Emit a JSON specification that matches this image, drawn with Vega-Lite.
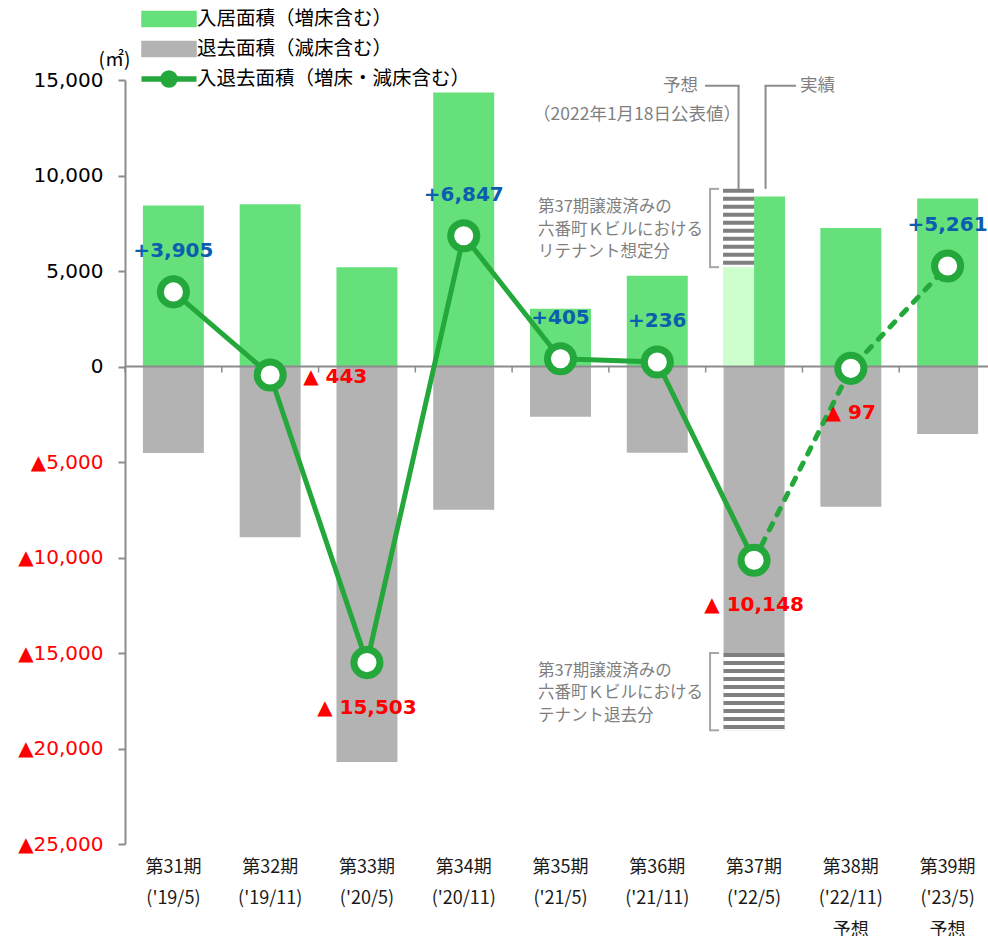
{
  "$schema": "https://vega.github.io/schema/vega-lite/v6.json",
  "width": 863,
  "height": 764,
  "autosize": {"type": "none"},
  "padding": {"left": 125, "top": 80, "right": 0, "bottom": 92},
  "background": "white",
  "config": {"view": {"stroke": null}, "font": "Noto Sans CJK JP"},
  "datasets": {
    "main": [
      {"period": "第31期 ('19/5)", "n": 31, "in": 8430, "out": -4525, "net": 3905},
      {"period": "第32期 ('19/11)", "n": 32, "in": 8500, "out": -8943, "net": -443},
      {"period": "第33期 ('20/5)", "n": 33, "in": 5200, "out": -20703, "net": -15503},
      {"period": "第34期 ('20/11)", "n": 34, "in": 14350, "out": -7503, "net": 6847},
      {"period": "第35期 ('21/5)", "n": 35, "in": 3030, "out": -2625, "net": 405},
      {"period": "第36期 ('21/11)", "n": 36, "in": 4750, "out": -4514, "net": 236},
      {"period": "第37期 ('22/5)", "n": 37, "in": 8900, "out": -19048, "net": -10148},
      {"period": "第38期 ('22/11) 予想", "n": 38, "in": 7250, "out": -7347, "net": -97},
      {"period": "第39期 ('23/5) 予想", "n": 39, "in": 8800, "out": -3539, "net": 5261}
    ],
    "hatch": [
      {"period": "第37期 ('22/5)", "part": "in", "hi": 9300, "lo": 5200, "top": 14700, "note": "第37期譲渡済みの\n六番町Ｋビルにおける\nリテナント想定分"},
      {"period": "第37期 ('22/5)", "part": "out", "hi": -15000, "lo": -19048, "top": null, "note": "第37期譲渡済みの\n六番町Ｋビルにおける\nテナント退去分"}
    ]
  },
  "layer": [
    {
      "data": {"name": "main"},
      "mark": {"type": "bar", "width": {"band": 0.63}},
      "encoding": {
        "x": {"field": "period", "type": "nominal", "title": null,
          "scale": {"range": [0, 871], "paddingInner": 0, "paddingOuter": 0},
          "axis": {"labelExpr": "split(datum.label, ' ')", "labelAngle": 0, "domain": false, "ticks": false,
            "labelFont": "Noto Sans CJK JP", "labelFontSize": 18, "labelFontWeight": "normal", "labelLineHeight": 31.5, "labelPadding": 14,
            "labelBaseline": "top", "labelColor": "#1A1A1A", "title": null, "grid": false}},
        "y": {"field": "out", "type": "quantitative", "title": "(㎡)",
          "scale": {"domain": [-25000, 15000], "nice": false, "zero": false},
          "axis": {"orient": "left", "values": [15000, 10000, 5000, 0, -5000, -10000, -15000, -20000, -25000],
            "labelExpr": "datum.value < 0 ? '▲' + format(-datum.value, ',') : format(datum.value, ',')",
            "labelColor": {"condition": {"test": "datum.value < 0", "value": "#FF0000"}, "value": "#000000"},
            "labelFont": "DejaVu Sans", "labelFontSize": 20, "labelFontWeight": "normal", "labelPadding": 15,
            "tickSize": 7, "tickColor": "#8C8C8C", "tickWidth": 2, "domainColor": "#8C8C8C", "domainWidth": 2,
            "grid": false, "title": "(㎡)", "titleAngle": 0, "titleX": -11, "titleY": -21,
            "titleFont": "Noto Sans CJK JP", "titleFontSize": 19, "titleFontWeight": "normal",
            "titleAlign": "center", "titleBaseline": "middle", "titleColor": "#000000"}},
        "color": {"datum": "退去面積（減床含む）", "type": "nominal",
          "scale": {"domain": ["入居面積（増床含む）", "退去面積（減床含む）", "入退去面積（増床・減床含む）"],
                    "range": ["#66E07A", "#B3B3B3", "#25A83B"]},
          "legend": {"orient": "none", "legendX": 31, "legendY": -74, "direction": "vertical", "title": null,
            "labelFont": "Noto Sans CJK JP", "labelFontSize": 19.5, "labelColor": "#000000", "labelOffset": 15,
            "symbolSize": 400, "rowPadding": -10, "padding": 0, "labelLimit": 400,
            "values": ["入居面積（増床含む）", "退去面積（減床含む）", "入退去面積（増床・減床含む）"],
            "encode": {"symbols": {"update": {
              "shape": {"signal": "datum.value === '入退去面積（増床・減床含む）' ? 'M-2.75,0H-0.6M0.6,0H2.75M0.6,0A0.6,0.6,0,1,1,-0.6,0A0.6,0.6,0,1,1,0.6,0' : 'M-2.5,-0.55H2.5V0.55H-2.5Z'"},
              "fill": {"signal": "datum.value === '入退去面積（増床・減床含む）' ? '#ffffff' : (datum.value === '入居面積（増床含む）' ? '#66E07A' : '#B3B3B3')"},
              "stroke": {"signal": "datum.value === '入退去面積（増床・減床含む）' ? '#25A83B' : 'transparent'"},
              "strokeWidth": {"value": 5.5},
              "opacity": {"value": 1}, "fillOpacity": {"value": 1}, "strokeOpacity": {"value": 1}
            }}}}}
      }
    },
    {
      "data": {"name": "main"},
      "transform": [{"filter": "datum.n !== 37"}],
      "mark": {"type": "bar", "width": {"band": 0.63}},
      "encoding": {
        "x": {"field": "period", "type": "nominal"},
        "y": {"field": "in", "type": "quantitative"},
        "color": {"datum": "入居面積（増床含む）", "type": "nominal"}
      }
    },
    {
      "data": {"name": "main"},
      "transform": [{"filter": "datum.n === 37"}],
      "mark": {"type": "bar", "width": {"band": 0.32}, "xOffset": 15.5},
      "encoding": {
        "x": {"field": "period", "type": "nominal"},
        "y": {"field": "in", "type": "quantitative"},
        "color": {"datum": "入居面積（増床含む）", "type": "nominal"}
      }
    },
    {
      "data": {"name": "hatch"},
      "transform": [{"filter": "datum.part === 'in'"}],
      "mark": {"type": "bar", "width": {"band": 0.32}, "xOffset": -15.5, "color": "#CCFFCC"},
      "encoding": {
        "x": {"field": "period", "type": "nominal"},
        "y": {"field": "lo", "type": "quantitative"},
        "y2": {"datum": 0}
      }
    },
    {
      "data": {"name": "hatch"},
      "transform": [{"filter": "datum.part === 'in'"}],
      "mark": {"type": "rule", "xOffset": -15.5, "strokeWidth": 31, "strokeDash": [4, 4], "color": "#7F7F7F"},
      "encoding": {
        "x": {"field": "period", "type": "nominal"},
        "y": {"field": "hi", "type": "quantitative"},
        "y2": {"field": "lo"}
      }
    },
    {
      "data": {"name": "hatch"},
      "transform": [{"filter": "datum.part === 'out'"}],
      "mark": {"type": "bar", "width": {"band": 0.63}, "color": "#FFFFFF"},
      "encoding": {
        "x": {"field": "period", "type": "nominal"},
        "y": {"field": "hi", "type": "quantitative"},
        "y2": {"field": "lo"}
      }
    },
    {
      "data": {"name": "hatch"},
      "transform": [{"filter": "datum.part === 'out'"}],
      "mark": {"type": "rule", "strokeWidth": 61, "strokeDash": [4, 4], "color": "#7F7F7F"},
      "encoding": {
        "x": {"field": "period", "type": "nominal"},
        "y": {"field": "hi", "type": "quantitative"},
        "y2": {"field": "lo"}
      }
    },
    {
      "data": {"name": "hatch"},
      "mark": {"type": "rule", "xOffset": -44, "strokeWidth": 2, "color": "#A6A6A6"},
      "encoding": {
        "x": {"field": "period", "type": "nominal"},
        "y": {"field": "hi", "type": "quantitative"},
        "y2": {"field": "lo"}
      }
    },
    {
      "data": {"name": "hatch"},
      "mark": {"type": "rule", "xOffset": -45, "x2Offset": -35, "strokeWidth": 2, "color": "#A6A6A6"},
      "encoding": {
        "x": {"field": "period", "type": "nominal", "bandPosition": 0.5},
        "x2": {"field": "period", "bandPosition": 0.5},
        "y": {"field": "hi", "type": "quantitative"}
      }
    },
    {
      "data": {"name": "hatch"},
      "mark": {"type": "rule", "xOffset": -45, "x2Offset": -35, "strokeWidth": 2, "color": "#A6A6A6"},
      "encoding": {
        "x": {"field": "period", "type": "nominal", "bandPosition": 0.5},
        "x2": {"field": "period", "bandPosition": 0.5},
        "y": {"field": "lo", "type": "quantitative"}
      }
    },
    {
      "data": {"name": "hatch"},
      "transform": [{"calculate": "(datum.hi + datum.lo) / 2", "as": "mid"}],
      "mark": {"type": "text", "align": "left", "baseline": "middle", "dx": -216, "dy": -21, "lineBreak": "\n",
        "font": "Noto Sans CJK JP", "fontSize": 16.5, "lineHeight": 22.5, "color": "#7F7F7F"},
      "encoding": {
        "x": {"field": "period", "type": "nominal"},
        "y": {"field": "mid", "type": "quantitative"},
        "text": {"field": "note"}
      }
    },
    {
      "data": {"name": "hatch"},
      "transform": [{"filter": "datum.part === 'in'"}],
      "mark": {"type": "rule", "xOffset": -15.5, "strokeWidth": 2, "color": "#8C8C8C"},
      "encoding": {
        "x": {"field": "period", "type": "nominal"},
        "y": {"field": "top", "type": "quantitative"},
        "y2": {"field": "hi"}
      }
    },
    {
      "data": {"name": "hatch"},
      "transform": [{"filter": "datum.part === 'in'"}],
      "mark": {"type": "rule", "xOffset": 11.5, "strokeWidth": 2, "color": "#8C8C8C"},
      "encoding": {
        "x": {"field": "period", "type": "nominal"},
        "y": {"field": "top", "type": "quantitative"},
        "y2": {"field": "hi"}
      }
    },
    {
      "data": {"name": "hatch"},
      "transform": [{"filter": "datum.part === 'in'"}],
      "mark": {"type": "rule", "xOffset": -49, "x2Offset": -14.5, "strokeWidth": 2, "color": "#8C8C8C"},
      "encoding": {
        "x": {"field": "period", "type": "nominal", "bandPosition": 0.5},
        "x2": {"field": "period", "bandPosition": 0.5},
        "y": {"field": "top", "type": "quantitative"}
      }
    },
    {
      "data": {"name": "hatch"},
      "transform": [{"filter": "datum.part === 'in'"}],
      "mark": {"type": "rule", "xOffset": 10.5, "x2Offset": 42, "strokeWidth": 2, "color": "#8C8C8C"},
      "encoding": {
        "x": {"field": "period", "type": "nominal", "bandPosition": 0.5},
        "x2": {"field": "period", "bandPosition": 0.5},
        "y": {"field": "top", "type": "quantitative"}
      }
    },
    {
      "data": {"name": "hatch"},
      "transform": [{"filter": "datum.part === 'in'"}],
      "mark": {"type": "text", "text": "予想", "align": "right", "baseline": "middle", "dx": -56,
        "font": "Noto Sans CJK JP", "fontSize": 17.5, "color": "#7F7F7F"},
      "encoding": {
        "x": {"field": "period", "type": "nominal"},
        "y": {"field": "top", "type": "quantitative"}
      }
    },
    {
      "data": {"name": "hatch"},
      "transform": [{"filter": "datum.part === 'in'"}],
      "mark": {"type": "text", "text": "（2022年1月18日公表値）", "align": "right", "baseline": "middle", "dx": -13, "dy": 29,
        "font": "Noto Sans CJK JP", "fontSize": 17.5, "color": "#7F7F7F"},
      "encoding": {
        "x": {"field": "period", "type": "nominal"},
        "y": {"field": "top", "type": "quantitative"}
      }
    },
    {
      "data": {"name": "hatch"},
      "transform": [{"filter": "datum.part === 'in'"}],
      "mark": {"type": "text", "text": "実績", "align": "left", "baseline": "middle", "dx": 46,
        "font": "Noto Sans CJK JP", "fontSize": 17.5, "color": "#7F7F7F"},
      "encoding": {
        "x": {"field": "period", "type": "nominal"},
        "y": {"field": "top", "type": "quantitative"}
      }
    },
    {
      "data": {"values": [{}]},
      "mark": {"type": "rule", "color": "#8C8C8C", "strokeWidth": 2},
      "encoding": {
        "y": {"datum": 0, "type": "quantitative"}
      }
    },
    {
      "data": {"name": "main"},
      "mark": {"type": "rule", "color": "#8C8C8C", "strokeWidth": 1.5, "y2Offset": 6},
      "encoding": {
        "x": {"field": "period", "type": "nominal", "bandPosition": 0},
        "y": {"datum": 0, "type": "quantitative"},
        "y2": {"datum": 0}
      }
    },
    {
      "data": {"name": "main"},
      "transform": [{"filter": "datum.n <= 37"}],
      "mark": {"type": "line", "strokeWidth": 5, "strokeJoin": "round"},
      "encoding": {
        "x": {"field": "period", "type": "nominal"},
        "y": {"field": "net", "type": "quantitative"},
        "color": {"datum": "入退去面積（増床・減床含む）", "type": "nominal"}
      }
    },
    {
      "data": {"name": "main"},
      "transform": [{"filter": "datum.n >= 37"}],
      "mark": {"type": "line", "strokeWidth": 5, "strokeDash": [7, 10], "strokeCap": "round"},
      "encoding": {
        "x": {"field": "period", "type": "nominal"},
        "y": {"field": "net", "type": "quantitative"},
        "color": {"datum": "入退去面積（増床・減床含む）", "type": "nominal"}
      }
    },
    {
      "data": {"name": "main"},
      "mark": {"type": "point", "shape": "circle", "filled": true, "fill": "#FFFFFF", "stroke": "#25A83B",
        "strokeWidth": 7, "size": 680, "opacity": 1},
      "encoding": {
        "x": {"field": "period", "type": "nominal"},
        "y": {"field": "net", "type": "quantitative"}
      }
    },
    {
      "data": {"name": "main"},
      "transform": [{"filter": "datum.net > 0"}],
      "mark": {"type": "text", "dy": -41, "baseline": "middle", "font": "DejaVu Sans", "fontWeight": "bold",
        "fontSize": 20, "color": "#0B5EAF"},
      "encoding": {
        "x": {"field": "period", "type": "nominal"},
        "y": {"field": "net", "type": "quantitative"},
        "text": {"field": "net", "type": "quantitative", "format": "+,"}
      }
    },
    {
      "data": {"name": "main"},
      "transform": [{"filter": "datum.net < 0 && datum.n !== 32"},
                    {"calculate": "'▲ ' + format(-datum.net, ',')", "as": "lbl"}],
      "mark": {"type": "text", "dy": 45, "baseline": "middle", "font": "DejaVu Sans", "fontWeight": "bold",
        "fontSize": 20, "color": "#FF0000"},
      "encoding": {
        "x": {"field": "period", "type": "nominal"},
        "y": {"field": "net", "type": "quantitative"},
        "text": {"field": "lbl"}
      }
    },
    {
      "data": {"name": "main"},
      "transform": [{"filter": "datum.n === 32"},
                    {"calculate": "'▲ ' + format(-datum.net, ',')", "as": "lbl"}],
      "mark": {"type": "text", "dx": 33, "dy": 2, "align": "left", "baseline": "middle", "font": "DejaVu Sans",
        "fontWeight": "bold", "fontSize": 20, "color": "#FF0000"},
      "encoding": {
        "x": {"field": "period", "type": "nominal"},
        "y": {"field": "net", "type": "quantitative"},
        "text": {"field": "lbl"}
      }
    }
  ]
}
